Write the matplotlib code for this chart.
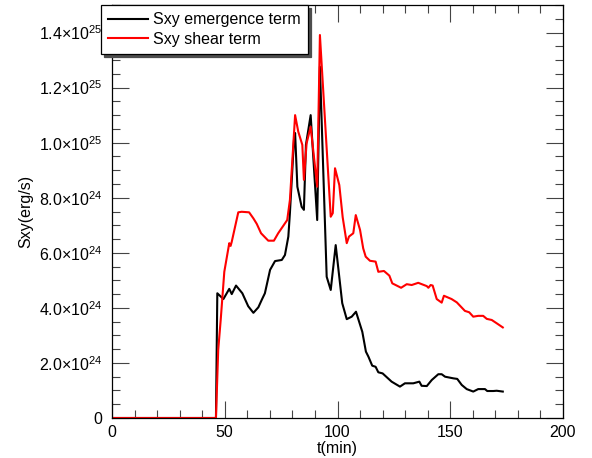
import numpy as np
import matplotlib.pyplot as plt
from matplotlib.ticker import MultipleLocator, FuncFormatter

plt.rcParams['font.family'] = ['Liberation Sans', 'DejaVu Sans']
plt.rcParams['mathtext.fontset'] = 'custom'
plt.rcParams['mathtext.rm'] = 'Liberation Sans'
plt.rcParams['mathtext.it'] = 'Liberation Sans:italic'

# emergence term (t in min, Sxy in 1e24 erg/s)
t_emerg = [0, 46.1, 46.7, 49.4, 52.0, 53.1, 55.0, 57.8, 60.4, 62.7, 64.9, 66.4, 67.8,
           70.1, 72.3, 75.3, 76.7, 78.2, 78.9, 80.7, 81.2, 82.2, 84.1, 85.1, 86.0,
           88.1, 91.0, 92.2, 95.2, 97.0, 99.2, 102.1, 104.1, 106.3, 108.2, 111.0,
           112.6, 113.7, 115.4, 116.9, 118.1, 120.0, 124.0, 127.7, 129.9, 133.6,
           136.3, 137.3, 139.6, 141.8, 144.7, 146.2, 147.7, 151.4, 153.1, 155.1,
           157.3, 160.2, 162.4, 165.4, 166.4, 169.1, 170.6, 173.3]
s_emerg = [0, 0, 4.53, 4.32, 4.69, 4.50, 4.81, 4.53, 4.06, 3.82, 4.02, 4.29, 4.53,
           5.38, 5.70, 5.74, 5.92, 6.59, 7.45, 10.1, 10.35, 8.40, 7.67, 7.56, 9.92,
           11.0, 7.19, 12.76, 5.13, 4.65, 6.28, 4.17, 3.59, 3.68, 3.86, 3.13,
           2.41, 2.23, 1.90, 1.86, 1.66, 1.62, 1.32, 1.14, 1.26, 1.26,
           1.32, 1.17, 1.16, 1.38, 1.59, 1.59, 1.50, 1.44, 1.42, 1.20,
           1.05, 0.96, 1.05, 1.05, 0.98, 0.98, 0.99, 0.96]

# shear term
t_shear = [0, 46.1, 47.1, 48.2, 49.8, 52.0, 52.6, 53.1, 56.0, 57.5, 60.8, 62.7, 64.2,
           66.1, 69.3, 71.8, 73.7, 77.7, 78.9, 81.2, 82.6, 84.4, 85.1, 86.3, 88.1,
           91.0, 92.2, 97.0, 97.9, 98.9, 100.8, 102.3, 104.1, 105.1, 107.0, 108.1,
           110.0, 111.4, 112.5, 114.4, 116.9, 118.1, 120.6, 123.0, 124.3, 128.2,
           130.7, 132.9, 135.8, 139.6, 140.3, 141.3, 142.2, 144.0, 146.2, 147.2,
           150.6, 152.9, 156.5, 158.4, 160.2, 162.4, 164.6, 166.2, 168.4, 170.6, 173.3]
s_shear = [0, 0, 2.47, 3.56, 5.31, 6.35, 6.25, 6.40, 7.47, 7.49, 7.47, 7.25, 7.05,
           6.71, 6.44, 6.44, 6.71, 7.19, 7.92, 11.0, 10.4, 9.92, 8.65, 9.98, 10.58,
           8.40, 13.91, 7.31, 7.44, 9.07, 8.46, 7.29, 6.35, 6.59, 6.71, 7.37,
           6.83, 6.16, 5.86, 5.71, 5.68, 5.31, 5.34, 5.17, 4.89, 4.73,
           4.86, 4.83, 4.91, 4.79, 4.73, 4.83, 4.81, 4.32, 4.19, 4.44,
           4.32, 4.20, 3.89, 3.84, 3.68, 3.71, 3.71, 3.60, 3.56, 3.44, 3.29]


def sci_label(v, pos):
    # IDL style labels: 0, 2.0x10^24 ...
    if abs(v) < 1e10:
        return '0'
    if v < 0:
        return ''
    exp = int(np.floor(np.log10(v) + 1e-9))
    mant = v / 10 ** exp
    return '%.1f×10$^{%d}$' % (mant, exp)


fig = plt.figure(figsize=(5.92, 4.58), dpi=100)
ax = fig.add_axes([112 / 592, 40 / 458, 451 / 592, 413 / 458])

ax.plot(t_emerg, np.array(s_emerg) * 1e24, color='black', lw=1.5, label='Sxy emergence term')
ax.plot(t_shear, np.array(s_shear) * 1e24, color='#ff0000', lw=1.5, label='Sxy shear term')

ax.set_xlim(0, 200)
ax.set_ylim(0, 1.5e25)
ax.xaxis.set_major_locator(MultipleLocator(50))
ax.xaxis.set_minor_locator(MultipleLocator(10))
ax.yaxis.set_major_locator(MultipleLocator(2e24))
ax.yaxis.set_minor_locator(MultipleLocator(5e23))
ax.yaxis.set_major_formatter(FuncFormatter(sci_label))

ax.tick_params(which='both', direction='in', top=True, right=True,
               color='#444444', width=0.8, labelsize=11.5)
ax.tick_params(which='major', length=12)
ax.tick_params(which='minor', length=6)
ax.tick_params(axis='y', pad=7)
ax.tick_params(axis='x', pad=5)
for sp in ax.spines.values():
    sp.set_linewidth(0.9)

ax.set_xlabel('t(min)', fontsize=11.5, labelpad=1)
ax.set_ylabel('Sxy(erg/s)', fontsize=11.5, labelpad=4)

leg = ax.legend(loc='upper left', bbox_to_anchor=(101 / 592, 1 - 5 / 458),
                bbox_transform=fig.transFigure, fontsize=11.5, fancybox=False,
                shadow={'color': '0.3', 'alpha': 1}, framealpha=1, edgecolor='black',
                borderaxespad=0, borderpad=0.45, handlelength=2.5, handletextpad=0.3,
                labelspacing=0.3)
leg.get_frame().set_linewidth(0.9)

fig.savefig('out.png', dpi=100)
